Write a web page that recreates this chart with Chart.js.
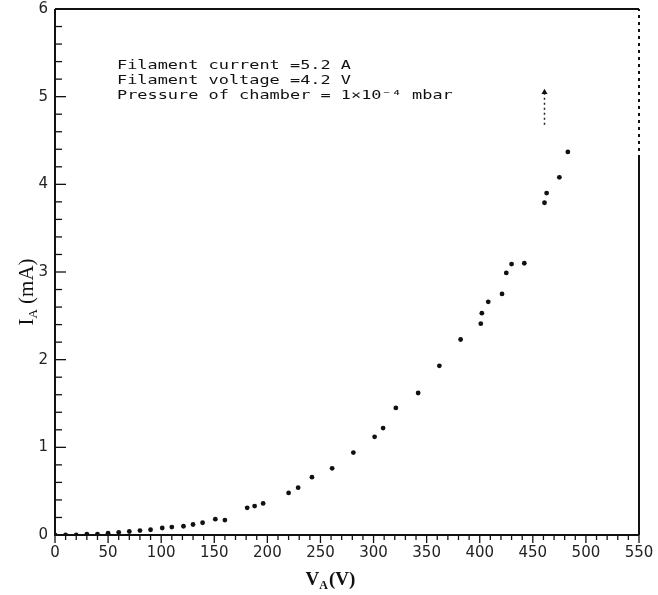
<!DOCTYPE html>
<html>
<head>
<meta charset="utf-8">
<script src="https://cdn.jsdelivr.net/npm/chart.js@4/dist/chart.umd.min.js"></script>
<style>
  html, body { margin: 0; padding: 0; background: #fff; }
  #wrap { position: relative; width: 658px; height: 595px; }
</style>
</head>
<body>
<div id="wrap"><canvas id="c" width="658" height="595"></canvas></div>
<script>
// Anode current I_A versus anode voltage V_A
const anodeVoltage = [0, 10, 20, 30, 40, 50, 60, 70, 80, 90, 101, 110, 121, 130, 139, 151, 160,
  181, 188, 196, 220, 229, 242, 261, 281, 301, 309, 321, 342, 362, 382, 401, 402, 408, 421,
  425, 430, 442, 461, 463, 475, 483];
const anodeCurrent = [0, 0, 0, 0.01, 0.01, 0.02, 0.03, 0.04, 0.05, 0.06, 0.08, 0.09, 0.10, 0.12, 0.14, 0.18, 0.17,
  0.31, 0.33, 0.36, 0.48, 0.54, 0.66, 0.76, 0.94, 1.12, 1.22, 1.45, 1.62, 1.93, 2.23, 2.41, 2.53, 2.66, 2.75,
  2.99, 3.09, 3.10, 3.79, 3.90, 4.08, 4.37];

// reading beyond the meter range, drawn as an upward arrow
const offScaleVoltage = [461, 461];
const offScaleCurrent = [4.68, 5.05];

const xTicks = [0, 50, 100, 150, 200, 250, 300, 350, 400, 450, 500, 550];
const yTicks = [0, 1, 2, 3, 4, 5, 6];
const xMinorStep = 10;
const yMinorStep = 0.2;

const conditions = [
  'Filament current =5.2 A',
  'Filament voltage =4.2 V',
  'Pressure of chamber = 1\u00d710\u207b\u2074 mbar'
];

const pts = (xs, ys) => xs.map((v, i) => ({ x: v, y: ys[i] }));

// frame, tick marks, axis titles and the note block
const decorations = {
  id: 'decorations',
  afterDatasetsDraw(chart) {
    const { ctx, chartArea: a, scales: { x, y } } = chart;
    ctx.save();
    ctx.strokeStyle = '#111';
    ctx.lineCap = 'butt';

    const seg = (x1, y1, x2, y2) => { ctx.beginPath(); ctx.moveTo(x1, y1); ctx.lineTo(x2, y2); ctx.stroke(); };

    // minor / major tick marks
    ctx.lineWidth = 1.3;
    const xMax = xTicks[xTicks.length - 1];
    for (let k = 0; k * xMinorStep <= xMax + 1e-9; k++) {
      const v = k * xMinorStep;
      const px = x.getPixelForValue(v);
      const len = xTicks.includes(v) ? 8 : 5;
      seg(px, a.bottom, px, a.bottom + len);
    }
    const yMax = yTicks[yTicks.length - 1];
    for (let k = 0; k * yMinorStep <= yMax + 1e-9; k++) {
      const v = k * yMinorStep;
      const py = y.getPixelForValue(v);
      const major = Math.abs(v - Math.round(v)) < 1e-6;
      seg(a.left, py, a.left + (major ? 11 : 7), py);
    }

    // plot frame
    ctx.lineWidth = 2;
    seg(a.left, a.top, a.left, a.bottom);
    seg(a.left - 1, a.bottom, a.right, a.bottom);
    seg(a.left, a.top, a.right, a.top);
    const yBreak = y.getPixelForValue(4.3);
    seg(a.right, a.bottom, a.right, yBreak);
    ctx.setLineDash([3, 4]);
    seg(a.right, yBreak, a.right, a.top);
    ctx.setLineDash([]);

    ctx.fillStyle = '#111';

    // y axis title: I_A (mA), rotated
    ctx.save();
    ctx.translate(26, 292);
    ctx.rotate(-Math.PI / 2);
    const big = '21px "Liberation Serif", serif';
    const small = '13px "Liberation Serif", serif';
    ctx.font = big; const wI = ctx.measureText('I').width; const wRest = ctx.measureText(' (mA)').width;
    ctx.font = small; const wA = ctx.measureText('A').width;
    let cx = -(wI + wA + wRest) / 2;
    ctx.textBaseline = 'alphabetic';
    ctx.font = big; ctx.fillText('I', cx, 7); cx += wI;
    ctx.font = small; ctx.fillText('A', cx, 11); cx += wA;
    ctx.font = big; ctx.fillText(' (mA)', cx, 7);
    ctx.restore();

    // x axis title: V_A(V)
    {
      const f1 = 'bold 19px "Liberation Serif", serif';
      const f2 = 'bold 12px "Liberation Serif", serif';
      ctx.font = f1; const wV = ctx.measureText('V').width; const wT = ctx.measureText('(V)').width;
      ctx.font = f2; const wS = ctx.measureText('A').width;
      let tx = 330 - (wV + wS + wT) / 2;
      ctx.font = f1; ctx.fillText('V', tx, 585); tx += wV;
      ctx.font = f2; ctx.fillText('A', tx, 589); tx += wS;
      ctx.font = f1; ctx.fillText('(V)', tx + 1, 585);
    }

    // operating conditions
    ctx.font = '13px "DejaVu Sans Mono", monospace';
    ctx.textBaseline = 'middle';
    conditions.forEach((t, i) => {
      ctx.save();
      ctx.translate(117, 66 + i * 15);
      ctx.scale(1.3, 1);
      ctx.fillText(t, 0, 0);
      ctx.restore();
    });

    ctx.restore();
  }
};

new Chart(document.getElementById('c'), {
  type: 'scatter',
  data: {
    datasets: [
      {
        data: pts(anodeVoltage, anodeCurrent),
        backgroundColor: '#111',
        borderColor: '#111',
        pointStyle: 'circle',
        pointRadius: 2.4,
        pointBorderWidth: 0,
        showLine: false
      },
      {
        data: pts(offScaleVoltage, offScaleCurrent),
        showLine: true,
        borderColor: '#222',
        borderWidth: 1.5,
        borderDash: [2, 3],
        backgroundColor: '#111',
        pointStyle: ['line', 'triangle'],
        pointRadius: [0, 3.5],
        pointBorderWidth: 0
      }
    ]
  },
  options: {
    responsive: false,
    animation: false,
    events: [],
    layout: { padding: { top: 9, right: 19, left: 0, bottom: 0 } },
    plugins: { legend: { display: false }, tooltip: { enabled: false } },
    scales: {
      x: {
        type: 'linear',
        min: xTicks[0],
        max: xTicks[xTicks.length - 1],
        grid: { display: false, drawTicks: false },
        border: { display: false },
        afterBuildTicks: s => { s.ticks = xTicks.map(v => ({ value: v })); },
        afterFit: s => { s.height = 60; s.paddingLeft = 0; s.paddingRight = 0; },
        ticks: {
          padding: 9,
          maxRotation: 0,
          autoSkip: false,
          color: '#222',
          font: { family: '"DejaVu Sans", sans-serif', size: 15 }
        }
      },
      y: {
        type: 'linear',
        min: yTicks[0],
        max: yTicks[yTicks.length - 1],
        grid: { display: false, drawTicks: false },
        border: { display: false },
        afterBuildTicks: s => { s.ticks = yTicks.map(v => ({ value: v })); },
        afterFit: s => { s.width = 55; s.paddingTop = 0; s.paddingBottom = 0; },
        ticks: {
          padding: 7,
          autoSkip: false,
          color: '#222',
          font: { family: '"DejaVu Sans", sans-serif', size: 15 }
        }
      }
    }
  },
  plugins: [decorations]
});
</script>
</body>
</html>
